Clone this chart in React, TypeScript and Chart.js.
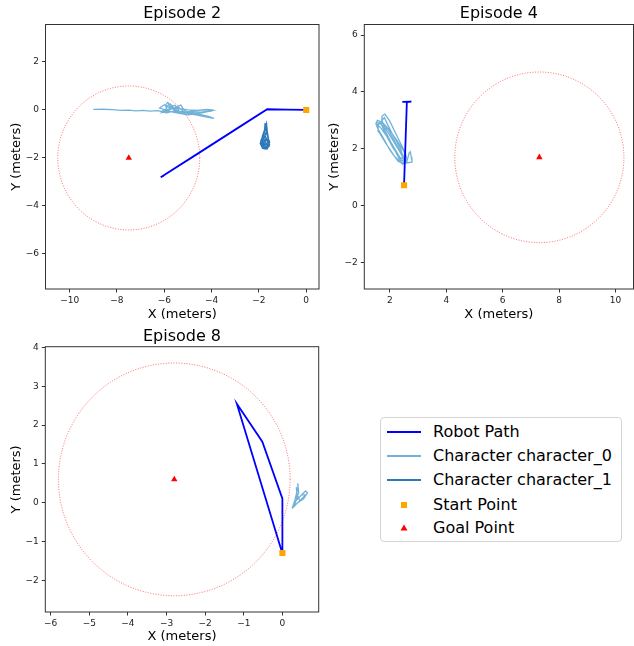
import React, { useEffect, useRef } from "react";
import { Chart, registerables } from "chart.js";

Chart.register(...registerables);

type Pt = [number, number];

const FONT = "'DejaVu Sans', 'Noto Sans', sans-serif";

// ---------- Episode 2 ----------
const ep2XTicks = [-10, -8, -6, -4, -2, 0];
const ep2YTicks = [-6, -4, -2, 0, 2];
const ep2XRange: Pt = [-11.02, 0.54];
const ep2YRange: Pt = [-7.46, 3.56];
const ep2Start: Pt = [0, 0];
const ep2Goal: Pt = [-7.5, -2];
const ep2Robot: Pt[] = [
  [0, 0], [-0.8, 0.01], [-1.65, 0.03], [-3.0, -0.82], [-4.6, -1.83], [-6.15, -2.8], [-6.02, -2.74],
];
const ep2Char0: Pt[] = [
  [-9.0, 0.02], [-8.6, 0.03], [-8.2, 0.01], [-7.8, -0.02], [-7.5, -0.01], [-7.2, -0.04], [-6.9, -0.02],
  [-6.6, -0.05], [-6.3, -0.03], [-6.1, -0.06], [-5.9, 0.05], [-5.95, 0.2], [-5.85, 0.32], [-5.75, 0.15],
  [-5.6, 0.0], [-5.4, 0.1], [-5.2, -0.05], [-5.5, -0.1], [-5.8, -0.05], [-6.05, -0.1], [-5.7, 0.1],
  [-5.35, 0.05], [-5.0, 0.0], [-4.6, -0.02], [-4.2, 0.02], [-3.95, 0.0], [-4.0, -0.05], [-4.4, -0.08],
  [-4.8, -0.1], [-5.2, -0.12], [-5.6, -0.05], [-5.9, -0.12], [-6.1, -0.08], [-5.8, 0.0], [-5.5, 0.12],
  [-5.3, 0.2], [-5.2, 0.05], [-5.0, -0.15], [-4.6, -0.22], [-4.2, -0.3], [-3.9, -0.35], [-4.1, -0.28],
  [-4.5, -0.18], [-4.9, -0.12], [-5.3, -0.08], [-5.65, 0.05], [-5.9, 0.15], [-5.75, 0.25], [-5.5, 0.0],
  [-5.25, -0.1], [-4.8, -0.05], [-4.3, 0.0], [-3.95, -0.02], [-4.4, -0.12], [-5.0, -0.2], [-5.6, -0.1],
  [-5.95, 0.0], [-6.2, 0.08], [-6.0, 0.22], [-5.8, 0.12], [-5.55, 0.2], [-5.4, 0.0], [-5.7, -0.08],
];
const ep2Char1: Pt[] = [
  [-1.7, -0.55], [-1.75, -0.8], [-1.85, -1.1], [-1.9, -1.35], [-1.85, -1.55], [-1.7, -1.6], [-1.58, -1.45],
  [-1.6, -1.2], [-1.65, -0.9], [-1.68, -0.6], [-1.72, -0.75], [-1.8, -1.0], [-1.92, -1.3], [-1.8, -1.5],
  [-1.62, -1.55], [-1.55, -1.35], [-1.65, -1.05], [-1.7, -0.7], [-1.78, -0.95], [-1.88, -1.25],
  [-1.75, -1.45], [-1.6, -1.4], [-1.7, -1.2], [-1.82, -1.4], [-1.68, -1.58], [-1.56, -1.5],
  [-1.62, -1.3], [-1.74, -1.1], [-1.84, -1.28], [-1.9, -1.45], [-1.78, -1.6], [-1.64, -1.5],
  [-1.72, -1.35], [-1.8, -1.2], [-1.7, -0.95], [-1.66, -0.75], [-1.74, -0.62], [-1.76, -0.9],
  [-1.86, -1.18], [-1.94, -1.4], [-1.84, -1.6], [-1.66, -1.62], [-1.55, -1.42],
];

// ---------- Episode 4 ----------
const ep4XTicks = [2, 4, 6, 8, 10];
const ep4YTicks = [-2, 0, 2, 4, 6];
const ep4XRange: Pt = [1.09, 10.64];
const ep4YRange: Pt = [-2.93, 6.37];
const ep4Start: Pt = [2.5, 0.72];
const ep4Goal: Pt = [7.3, 1.7];
const ep4Robot: Pt[] = [
  [2.5, 0.72], [2.6, 3.65], [2.44, 3.65], [2.76, 3.66], [2.6, 3.64],
];
const ep4Char0: Pt[] = [
  [2.4, 1.5], [2.2, 1.9], [1.95, 2.35], [1.7, 2.7], [1.52, 2.9], [1.55, 3.0], [1.7, 2.95], [1.95, 2.65],
  [2.2, 2.2], [2.45, 1.8], [2.55, 1.55], [2.4, 1.6], [2.1, 2.05], [1.85, 2.5], [1.7, 2.85], [1.72, 3.15],
  [1.82, 3.22], [1.98, 3.0], [2.15, 2.65], [2.35, 2.25], [2.55, 1.85], [2.6, 1.6], [2.45, 1.45],
  [2.15, 1.75], [1.85, 2.2], [1.6, 2.6], [1.58, 2.85], [1.72, 2.95], [1.95, 2.7], [2.25, 2.3],
  [2.5, 1.9], [2.6, 1.55], [2.68, 1.85], [2.72, 1.9], [2.76, 1.7], [2.78, 1.53], [2.55, 1.5],
  [2.3, 1.55], [2.0, 1.95], [1.75, 2.4], [1.55, 2.75], [1.5, 2.9], [1.62, 2.92], [1.85, 2.7],
  [2.1, 2.3], [2.35, 1.9], [2.5, 1.62], [2.35, 1.7], [2.05, 2.2], [1.82, 2.65], [1.72, 3.0],
  [1.8, 3.1], [1.92, 2.85], [2.12, 2.45], [2.38, 2.0], [2.5, 1.6],
];

// ---------- Episode 8 ----------
const ep8XTicks = [-6, -5, -4, -3, -2, -1, 0];
const ep8YTicks = [-2, -1, 0, 1, 2, 3, 4];
const ep8XRange: Pt = [-6.14, 0.94];
const ep8YRange: Pt = [-2.82, 4.02];
const ep8Start: Pt = [0, -1.3];
const ep8Goal: Pt = [-2.8, 0.6];
const ep8Robot: Pt[] = [
  [0, -1.3], [0, 0.1], [-0.52, 1.57], [-1.18, 2.55], [-0.02, -1.25],
];
const ep8Char0: Pt[] = [
  [0.25, -0.15], [0.32, 0.05], [0.38, 0.3], [0.4, 0.5], [0.42, 0.25], [0.35, 0.1], [0.45, 0.15],
  [0.6, 0.3], [0.65, 0.25], [0.55, 0.1], [0.4, 0.0], [0.3, -0.1], [0.35, 0.05], [0.5, 0.2], [0.6, 0.2],
  [0.45, 0.05], [0.38, 0.22], [0.36, 0.4],
];

const goalRadius = 3;

const legendLabels = ["Robot Path", "Character character_0", "Character character_1", "Start Point", "Goal Point"];

// ---------- styles ----------
const ROBOT_COLOR = "#0000ff";
const CHAR0_COLOR = "rgba(107,174,214,0.95)";
const CHAR1_COLOR = "rgba(33,113,181,0.95)";
const START_COLOR = "#ffa500";
const GOAL_COLOR = "#ff0000";

interface Rect { left: number; top: number; width: number; height: number }
interface Area { left: number; top: number; right: number; bottom: number }

interface PanelSpec {
  title: string;
  canvas: Rect;
  area: Area;
  titlePadTop: number;
  yTitleX: number;
  xTitleY: number;
  xRange: Pt;
  yRange: Pt;
  xTicks: number[];
  yTicks: number[];
  start: Pt;
  goal: Pt;
  robot: Pt[];
  char0: Pt[];
  char1?: Pt[];
}

const panels: PanelSpec[] = [
  {
    title: "Episode 2",
    canvas: { left: 0, top: 0, width: 326, height: 330 },
    area: { left: 45.5, top: 24.5, right: 319, bottom: 289 },
    titlePadTop: 4.5, yTitleX: 16.2, xTitleY: 314.5,
    xRange: ep2XRange, yRange: ep2YRange, xTicks: ep2XTicks, yTicks: ep2YTicks,
    start: ep2Start, goal: ep2Goal, robot: ep2Robot, char0: ep2Char0, char1: ep2Char1,
  },
  {
    title: "Episode 4",
    canvas: { left: 326, top: 0, width: 308, height: 330 },
    area: { left: 364.3, top: 24.5, right: 633.5, bottom: 289 },
    titlePadTop: 4.5, yTitleX: 335, xTitleY: 314.5,
    xRange: ep4XRange, yRange: ep4YRange, xTicks: ep4XTicks, yTicks: ep4YTicks,
    start: ep4Start, goal: ep4Goal, robot: ep4Robot, char0: ep4Char0,
  },
  {
    title: "Episode 8",
    canvas: { left: 0, top: 326, width: 326, height: 320 },
    area: { left: 45.3, top: 346.7, right: 318.7, bottom: 612 },
    titlePadTop: 1, yTitleX: 16.2, xTitleY: 637,
    xRange: ep8XRange, yRange: ep8YRange, xTicks: ep8XTicks, yTicks: ep8YTicks,
    start: ep8Start, goal: ep8Goal, robot: ep8Robot, char0: ep8Char0,
  },
];

const fmtTick = (v: number | string) => {
  const n = Number(v);
  return n < 0 ? "\u2212" + Math.abs(n) : String(n);
};

const toXY = (pts: Pt[]) => pts.map(([x, y]) => ({ x, y }));

const framePlugin = {
  id: "goalFrame",
  beforeDatasetsDraw(chart: any, _args: any, opts: any) {
    const { ctx, chartArea, scales } = chart;
    const xs = scales.x;
    const ys = scales.y;
    const [gx, gy] = opts.center as Pt;
    const r = opts.radius as number;
    const cx = xs.getPixelForValue(gx);
    const cy = ys.getPixelForValue(gy);
    const rx = Math.abs(xs.getPixelForValue(gx + r) - cx);
    const ry = Math.abs(ys.getPixelForValue(gy + r) - cy);
    ctx.save();
    ctx.beginPath();
    ctx.rect(chartArea.left, chartArea.top, chartArea.right - chartArea.left, chartArea.bottom - chartArea.top);
    ctx.clip();
    ctx.setLineDash([1, 1.6]);
    ctx.strokeStyle = "rgba(255,0,0,0.6)";
    ctx.lineWidth = 1;
    ctx.beginPath();
    ctx.ellipse(cx, cy, rx, ry, 0, 0, Math.PI * 2);
    ctx.stroke();
    ctx.restore();
  },
  afterDraw(chart: any) {
    const { ctx, chartArea } = chart;
    ctx.save();
    ctx.strokeStyle = "#333";
    ctx.lineWidth = 1;
    ctx.strokeRect(chartArea.left, chartArea.top, chartArea.right - chartArea.left, chartArea.bottom - chartArea.top);
    ctx.restore();
  },
};

function Panel({ spec }: { spec: PanelSpec }) {
  const ref = useRef<HTMLCanvasElement | null>(null);
  useEffect(() => {
    if (!ref.current) return;
    const c = spec.canvas;
    const a = spec.area;
    const yAxisW = a.left - c.left;
    const xAxisH = c.top + c.height - a.bottom;
    const padRight = c.left + c.width - a.right;
    const titleH = a.top - c.top;
    const titleSize = 16;
    const titleLine = titleSize * 1.2;
    const titlePadBottom = titleH - titleLine - spec.titlePadTop;
    const labelSize = 13;
    const labelHalf = (labelSize * 1.2) / 2;
    const yTitlePad = spec.yTitleX - c.left - labelHalf;
    const xTitlePad = c.top + c.height - labelHalf - spec.xTitleY;

    const datasets: any[] = [
      {
        label: "Start Point", data: toXY([spec.start]), pointStyle: "rect", pointRadius: 4.3,
        backgroundColor: START_COLOR, borderColor: START_COLOR, borderWidth: 0, showLine: false,
      },
      {
        label: "Goal Point", data: toXY([spec.goal]), pointStyle: "triangle", pointRadius: 3.7,
        backgroundColor: GOAL_COLOR, borderColor: GOAL_COLOR, borderWidth: 0, showLine: false,
      },
      {
        label: "Robot Path", data: toXY(spec.robot), showLine: true, pointRadius: 0,
        borderColor: ROBOT_COLOR, borderWidth: 1.8, tension: 0, fill: false,
      },
    ];
    if (spec.char1) {
      datasets.push({
        label: "Character character_1", data: toXY(spec.char1), showLine: true, pointRadius: 0,
        borderColor: CHAR1_COLOR, borderWidth: 1.5, tension: 0, fill: false,
      });
    }
    datasets.push({
      label: "Character character_0", data: toXY(spec.char0), showLine: true, pointRadius: 0,
      borderColor: CHAR0_COLOR, borderWidth: 1.3, tension: 0, fill: false,
    });

    const tickCommon = {
      font: { size: 9, family: FONT },
      color: "#222",
      padding: 3,
      maxRotation: 0,
      autoSkip: false,
      callback: fmtTick,
    };
    const gridCommon = {
      display: true,
      drawOnChartArea: false,
      drawTicks: true,
      tickLength: 3.5,
      tickColor: "#333",
      lineWidth: 1,
    };

    const chart = new Chart(ref.current, {
      type: "scatter",
      data: { datasets },
      plugins: [framePlugin as any],
      options: {
        animation: false,
        responsive: false,
        devicePixelRatio: 1,
        events: [],
        layout: { padding: { left: 0, top: 0, right: padRight, bottom: 0 }, autoPadding: false },
        plugins: {
          legend: { display: false },
          tooltip: { enabled: false },
          title: {
            display: true,
            text: spec.title,
            fullSize: false,
            font: { size: titleSize, weight: "normal", family: FONT, lineHeight: 1.2 },
            color: "#000",
            padding: { top: spec.titlePadTop, bottom: titlePadBottom },
          },
          goalFrame: { center: spec.goal, radius: goalRadius },
        } as any,
        scales: {
          x: {
            type: "linear",
            position: "bottom",
            min: spec.xRange[0],
            max: spec.xRange[1],
            afterBuildTicks: (s: any) => { s.ticks = spec.xTicks.map((v) => ({ value: v })); },
            afterFit: (s: any) => { s.height = xAxisH; },
            ticks: tickCommon as any,
            grid: gridCommon as any,
            border: { display: false },
            title: {
              display: true, text: "X (meters)", color: "#000",
              font: { size: labelSize, family: FONT, lineHeight: 1.2 },
              padding: { top: 0, bottom: xTitlePad },
            },
          },
          y: {
            type: "linear",
            position: "left",
            min: spec.yRange[0],
            max: spec.yRange[1],
            afterBuildTicks: (s: any) => { s.ticks = spec.yTicks.map((v) => ({ value: v })); },
            afterFit: (s: any) => { s.width = yAxisW; },
            ticks: tickCommon as any,
            grid: gridCommon as any,
            border: { display: false },
            title: {
              display: true, text: "Y (meters)", color: "#000",
              font: { size: labelSize, family: FONT, lineHeight: 1.2 },
              padding: { top: yTitlePad, bottom: 0 },
            },
          },
        },
      } as any,
    });
    return () => chart.destroy();
  }, [spec]);

  const c = spec.canvas;
  return (
    <canvas
      ref={ref}
      width={c.width}
      height={c.height}
      style={{ position: "absolute", left: c.left, top: c.top, width: c.width, height: c.height }}
    />
  );
}

function Legend() {
  const rowCenters = [14, 38, 62, 87, 110];
  const handleLeft = 6;
  const handleW = 34;
  const textLeft = 52;
  const handles = [
    <div key="h0" style={{ position: "absolute", left: handleLeft, top: rowCenters[0] - 1, width: handleW, height: 2, background: ROBOT_COLOR }} />,
    <div key="h1" style={{ position: "absolute", left: handleLeft, top: rowCenters[1] - 1, width: handleW, height: 2, background: CHAR0_COLOR }} />,
    <div key="h2" style={{ position: "absolute", left: handleLeft, top: rowCenters[2] - 1, width: handleW, height: 2, background: CHAR1_COLOR }} />,
    <div key="h3" style={{ position: "absolute", left: handleLeft + handleW / 2 - 3, top: rowCenters[3] - 3, width: 6, height: 6, background: START_COLOR }} />,
    <svg key="h4" width={8} height={8} style={{ position: "absolute", left: handleLeft + handleW / 2 - 4, top: rowCenters[4] - 4 }}>
      <polygon points="4,0.5 7.5,6.5 0.5,6.5" fill={GOAL_COLOR} />
    </svg>,
  ];
  return (
    <div
      style={{
        position: "absolute", left: 380, top: 417, width: 242, height: 125, boxSizing: "border-box",
        border: "1px solid #d5d5d5", borderRadius: 4, background: "rgba(255,255,255,0.8)",
        fontFamily: FONT, fontSize: 16, color: "#000",
      }}
    >
      {handles}
      {legendLabels.map((t, i) => (
        <div key={t} style={{ position: "absolute", left: textLeft, top: rowCenters[i] - 10, lineHeight: "20px", whiteSpace: "nowrap" }}>
          {t}
        </div>
      ))}
    </div>
  );
}

export default function App() {
  return (
    <div style={{ position: "absolute", left: 0, top: 0, width: 634, height: 646, background: "#fff", overflow: "hidden" }}>
      {panels.map((p) => (
        <Panel key={p.title} spec={p} />
      ))}
      <Legend />
    </div>
  );
}
